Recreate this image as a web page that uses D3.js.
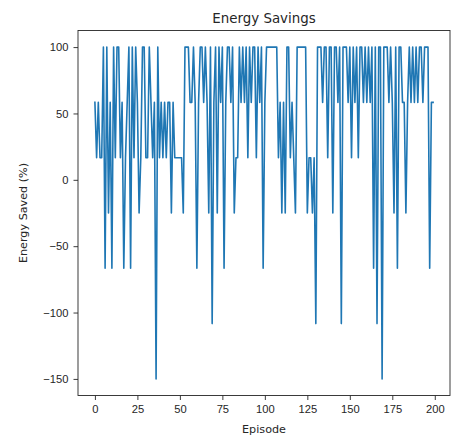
<!DOCTYPE html>
<html lang="en">
<head>
    <meta charset="UTF-8">
    <title>Energy Savings</title>
    <script src="https://d3js.org/d3.v7.min.js"></script>
    <style>
        body { margin: 0; background: #fff; }
        svg { display: block; font-family: "DejaVu Sans", sans-serif; }
        .axis text { font-size: 11.2px; fill: #262626; }
        .axis path, .axis line { stroke: #262626; stroke-width: 0.9px; }
    </style>
</head>
<body>
    <svg id="chart" width="451" height="435"></svg>

    <script>
        // Energy saved per episode (%)
        const saved = [
            58.33, 16.67, 58.33, 16.67, 16.67, 100, -66.67, 100, -25, 58.33,
            -66.67, 100, 16.67, 100, 100, 16.67, 58.33, -66.67, 16.67, 58.33,
            100, -66.67, 100, 16.67, 100, 58.33, -25, 16.67, 100, 100,
            16.67, 16.67, 100, 58.33, 16.67, 58.33, -150, 100, 16.67, 58.33,
            16.67, 58.33, 16.67, 58.33, 58.33, -25, 58.33, 16.67, 16.67, 16.67,
            16.67, 16.67, -25, 100, 100, 100, 58.33, 58.33, 100, 58.33,
            -66.67, 58.33, 100, 100, 58.33, 100, 58.33, -25, 100, -108.33,
            58.33, 100, -25, 100, 58.33, 100, -66.67, 58.33, 100, 100,
            58.33, 100, -25, 16.67, 16.67, 100, 58.33, 100, 58.33, 100,
            16.67, 100, 58.33, 100, 100, 16.67, 100, 58.33, 100, -66.67,
            58.33, 100, 100, 100, 100, 100, 100, 100, 16.67, 58.33,
            -25, 58.33, -25, 100, 100, 16.67, 58.33, 16.67, -25, 100,
            100, 100, 100, 100, 100, -25, 16.67, 16.67, -25, 16.67,
            -108.33, 100, 100, 100, 58.33, 100, 100, 16.67, 100, 100,
            -25, 100, 100, 58.33, 100, -108.33, 100, 100, 100, 58.33,
            100, 16.67, 100, 58.33, 100, 16.67, 100, 100, 58.33, 100,
            58.33, 100, 58.33, 100, -66.67, 100, -108.33, 100, 100, -150,
            100, 100, 100, 58.33, 100, 58.33, -25, 100, -66.67, 100,
            100, 58.33, 58.33, -25, 58.33, 100, 58.33, 100, 58.33, 100,
            58.33, 100, 100, 58.33, 100, 100, 100, -66.67, 58.33, 58.33
        ];
        const episodes = saved.map((d, i) => i);

        const xTicks = [0, 25, 50, 75, 100, 125, 150, 175, 200];
        const yTicks = [-150, -100, -50, 0, 50, 100];

        const margin = { left: 78, right: 1, top: 30.5, bottom: 39.5 };
        const width = 451, height = 435;

        const svg = d3.select("#chart");

        // matplotlib style 5% padding around the data
        const xPad = (episodes.length - 1) * 0.05;
        const x = d3.scaleLinear()
            .domain([-xPad, episodes.length - 1 + xPad])
            .range([margin.left, width - margin.right]);

        const yMin = d3.min(saved), yMax = d3.max(saved);
        const yPad = (yMax - yMin) * 0.05;
        const y = d3.scaleLinear()
            .domain([yMin - yPad, yMax + yPad])
            .range([height - margin.bottom, margin.top]);

        const line = d3.line()
            .x((d, i) => x(episodes[i]))
            .y(d => y(d));

        svg.append("path")
            .datum(saved)
            .attr("fill", "none")
            .attr("stroke", "#1f77b4")
            .attr("stroke-width", 1.6)
            .attr("stroke-linejoin", "round")
            .attr("stroke-linecap", "square")
            .attr("d", line);

        // axes
        svg.append("g")
            .attr("class", "axis")
            .attr("transform", `translate(0,${height - margin.bottom})`)
            .call(d3.axisBottom(x).tickValues(xTicks).tickSize(4.5).tickPadding(5.5).tickSizeOuter(0))
            .call(g => g.select(".domain").remove());

        svg.append("g")
            .attr("class", "axis")
            .attr("transform", `translate(${margin.left},0)`)
            .call(d3.axisLeft(y).tickValues(yTicks).tickSize(4.5).tickPadding(5)
                .tickFormat(d => d < 0 ? "\u2212" + Math.abs(d) : d))
            .call(g => g.select(".domain").remove());

        // frame
        svg.append("rect")
            .attr("x", margin.left)
            .attr("y", margin.top)
            .attr("width", width - margin.right - margin.left)
            .attr("height", height - margin.bottom - margin.top)
            .attr("fill", "none")
            .attr("stroke", "#262626")
            .attr("stroke-width", 0.9);

        svg.append("text")
            .attr("x", (margin.left + width - margin.right) / 2)
            .attr("y", 22.5)
            .attr("text-anchor", "middle")
            .attr("font-size", "13.4px")
            .attr("fill", "#262626")
            .text("Energy Savings");

        svg.append("text")
            .attr("x", (margin.left + width - margin.right) / 2)
            .attr("y", 432.5)
            .attr("text-anchor", "middle")
            .attr("font-size", "11.2px")
            .attr("fill", "#262626")
            .text("Episode");

        svg.append("text")
            .attr("transform", `translate(26.5,${(margin.top + height - margin.bottom) / 2}) rotate(-90)`)
            .attr("text-anchor", "middle")
            .attr("font-size", "11.2px")
            .attr("fill", "#262626")
            .text("Energy Saved (%)");
    </script>
</body>
</html>
